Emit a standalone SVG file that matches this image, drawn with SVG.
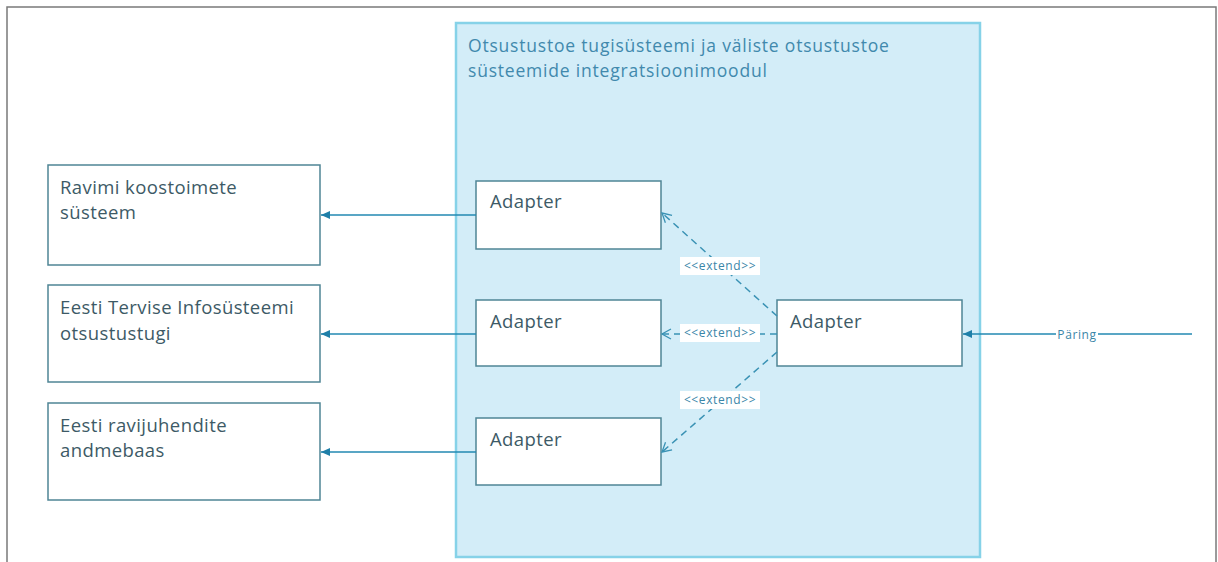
<svg xmlns="http://www.w3.org/2000/svg" width="1218" height="562" viewBox="0 0 1218 562">
  <style>
    .frame { fill: #ffffff; stroke: #7a7a7a; stroke-width: 1.5; }
    .module { fill: #d3edf8; stroke: #86d2e8; stroke-width: 2.5; }
    .box { fill: #ffffff; stroke: #4f8595; stroke-width: 1.5; }
    .title { font-family: "Open Sans", "Noto Sans", sans-serif; font-size: 17.5px; letter-spacing: 0.8px; fill: #4189ad; }
    .label { font-family: "Open Sans", "Noto Sans", sans-serif; font-size: 18.5px; letter-spacing: 0.4px; fill: #3d5a66; }
    .flow { stroke: #2288b2; stroke-width: 1.5; fill: none; }
    .dep { stroke: #3a92b4; stroke-width: 1.5; fill: none; stroke-dasharray: 7 5; }
    .tag { font-family: "Open Sans", "Noto Sans", sans-serif; font-size: 12px; letter-spacing: 0.6px; fill: #3a86a8; }
    .tagbg { fill: #ffffff; }
  </style>
  <defs>
    <marker id="solidHead" markerWidth="10" markerHeight="10" refX="9" refY="5" orient="auto" markerUnits="userSpaceOnUse">
      <path d="M0,1 L9,5 L0,9 Z" fill="#1f7fa8"/>
    </marker>
    <marker id="openHead" markerWidth="12" markerHeight="12" refX="10" refY="6" orient="auto" markerUnits="userSpaceOnUse">
      <path d="M1,1 L10,6 L1,11" fill="none" stroke="#3a92b4" stroke-width="1.3"/>
    </marker>
  </defs>

  <!-- page frame -->
  <rect class="frame" x="7" y="7" width="1209" height="570"/>

  <!-- integration module container -->
  <g id="module">
    <rect class="module" x="456" y="23" width="524" height="534"/>
    <text class="title" x="468" y="52">Otsustustoe tugisüsteemi ja väliste otsustustoe</text>
    <text class="title" x="468" y="77">süsteemide integratsioonimoodul</text>
  </g>

  <!-- external systems -->
  <g id="ravimi">
    <rect class="box" x="48" y="165" width="272" height="100"/>
    <text class="label" x="60" y="194">Ravimi koostoimete</text>
    <text class="label" x="60" y="219">süsteem</text>
  </g>
  <g id="tis">
    <rect class="box" x="48" y="285" width="272" height="97"/>
    <text class="label" x="60" y="314">Eesti Tervise Infosüsteemi</text>
    <text class="label" x="60" y="340">otsustustugi</text>
  </g>
  <g id="ravijuhendid">
    <rect class="box" x="48" y="403" width="272" height="97"/>
    <text class="label" x="60" y="432">Eesti ravijuhendite</text>
    <text class="label" x="60" y="457">andmebaas</text>
  </g>

  <!-- adapters -->
  <g id="adapter1">
    <rect class="box" x="476" y="181" width="185" height="68"/>
    <text class="label" x="490" y="208">Adapter</text>
  </g>
  <g id="adapter2">
    <rect class="box" x="476" y="300" width="185" height="66"/>
    <text class="label" x="490" y="328">Adapter</text>
  </g>
  <g id="adapter3">
    <rect class="box" x="476" y="418" width="185" height="67"/>
    <text class="label" x="490" y="446">Adapter</text>
  </g>
  <g id="adapterMain">
    <rect class="box" x="777" y="300" width="185" height="66"/>
    <text class="label" x="790" y="328">Adapter</text>
  </g>

  <!-- connectors -->
  <g id="connectors">
    <line class="flow" x1="476" y1="215" x2="321" y2="215" marker-end="url(#solidHead)"/>
    <line class="flow" x1="476" y1="334" x2="321" y2="334" marker-end="url(#solidHead)"/>
    <line class="flow" x1="476" y1="452" x2="321" y2="452" marker-end="url(#solidHead)"/>

    <line class="flow" x1="1192" y1="334" x2="963" y2="334" marker-end="url(#solidHead)"/>
    <rect class="tagbg" x="1056" y="325" width="42" height="18"/>
    <text class="tag" x="1077" y="339" text-anchor="middle" font-size="13.5">Päring</text>

    <line class="dep" x1="777" y1="316" x2="662" y2="213" marker-end="url(#openHead)"/>
    <line class="dep" x1="777" y1="334" x2="662" y2="334" marker-end="url(#openHead)"/>
    <line class="dep" x1="777" y1="352" x2="662" y2="452" marker-end="url(#openHead)"/>

    <rect class="tagbg" x="680" y="257" width="80" height="18"/>
    <text class="tag" x="720" y="270" text-anchor="middle">&lt;&lt;extend&gt;&gt;</text>
    <rect class="tagbg" x="680" y="324" width="80" height="18"/>
    <text class="tag" x="720" y="337" text-anchor="middle">&lt;&lt;extend&gt;&gt;</text>
    <rect class="tagbg" x="680" y="391" width="80" height="18"/>
    <text class="tag" x="720" y="404" text-anchor="middle">&lt;&lt;extend&gt;&gt;</text>
  </g>
</svg>
